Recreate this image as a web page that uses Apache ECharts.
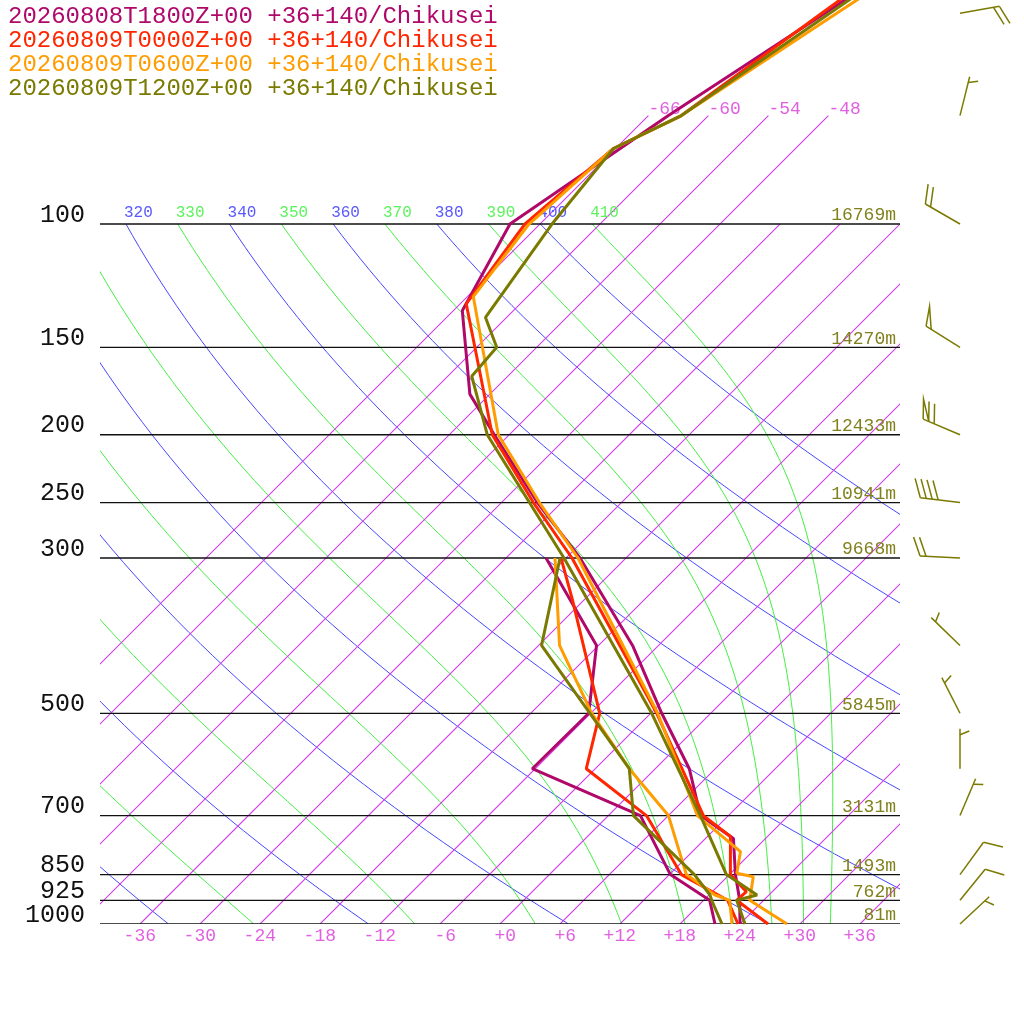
<!DOCTYPE html>
<html>
<head>
<meta charset="utf-8">
<title>Skew-T Chikusei</title>
<style>
  html, body { margin: 0; background: #fff; }
  #chart { width: 1024px; height: 1024px; }
</style>
<script src="https://cdn.jsdelivr.net/npm/echarts@6/dist/echarts.min.js"></script>
</head>
<body>
<div id="chart"></div>
<script>
/* Skew-T log-p for four runs at +36+140/Chikusei.
   Profiles are [pressure hPa, °C] pairs. */

const runNames = [
  '20260808T1800Z+00 +36+140/Chikusei',
  '20260809T0000Z+00 +36+140/Chikusei',
  '20260809T0600Z+00 +36+140/Chikusei',
  '20260809T1200Z+00 +36+140/Chikusei',
];
const runColors = ['#b0086a', '#ff2600', '#ff9c00', '#7a7a00'];

const temp1800 = [[1000, 24.0], [925, 21.6], [850, 18.6], [755, 14.8], [700, 9.2], [600, 3.4],
  [500, -4.9], [400, -14.6], [300, -28.6], [250, -38.4], [200, -49.5], [175, -56.0], [133, -65.1],
  [100, -69.0], [70, -64.0], [50, -58.6], [30, -50.5]];
const dew1800 = [[1000, 21.5], [925, 18.6], [850, 12.1], [700, 3.2], [600, -12.3], [500, -12.2],
  [400, -18.2], [300, -32.0]];

const temp0000 = [[1000, 26.8], [925, 21.3], [899, 21.4], [850, 18.1], [750, 14.3], [700, 9.5],
  [500, -5.4], [300, -29.4], [250, -38.8], [200, -49.7], [130, -65.4], [100, -67.5], [78, -66.2],
  [70, -62.7], [50, -58.9], [30, -53.2]];
const dew0000 = [[1000, 23.8], [925, 20.4], [850, 13.2], [700, 3.8], [600, -6.9], [500, -11.1],
  [344, -25.2], [300, -30.5]];

const temp0600 = [[1000, 28.7], [925, 22.6], [856, 20.6], [846, 18.6], [788, 16.8], [700, 8.9],
  [500, -5.3], [300, -28.8], [250, -38.2], [200, -49.1], [127, -65.4], [100, -67.1], [78, -66.2],
  [70, -62.7], [50, -57.4], [30, -49.3]];
const dew0600 = [[1000, 23.2], [925, 20.6], [909, 18.6], [850, 13.7], [700, 6.0], [600, -2.6],
  [500, -11.9], [400, -21.9], [300, -31.1]];

const temp1200 = [[1000, 24.5], [925, 21.3], [909, 22.8], [850, 17.7], [700, 9.2], [500, -5.9],
  [300, -30.2], [250, -39.2], [200, -50.2], [165, -57.6], [150, -58.0], [136, -62.1], [100, -64.8],
  [78, -66.2], [70, -62.7], [50, -58.1], [30, -51.1]];
const dew1200 = [[1000, 22.2], [925, 18.8], [909, 18.1], [850, 14.5], [700, 2.5], [600, -2.6],
  [400, -23.7], [300, -30.6]];

// wind barbs of the 1200Z run: direction from (deg), speed (kt)
const windP   = [1000, 925, 850, 700, 600, 500, 400, 300, 250, 200, 150, 100, 70, 50];
const windDir = [47, 39, 36, 23, 0, 333, 314, 273, 277, 293, 302, 300, 14, 80];
const windKt  = [5, 10, 10, 5, 5, 5, 5, 20, 40, 70, 50, 20, 5, 20];

// reference grid of the diagram
const pressureLevels = [1000, 925, 850, 700, 500, 300, 250, 200, 150, 100];
const pressureLabels = ['1000', '925', '850', '700', '500', '300', '250', '200', '150', '100'];
const heightLabels = ['81m', '762m', '1493m', '3131m', '5845m', '9668m', '10941m', '12433m', '14270m', '16769m'];
const isotherms = [-66, -60, -54, -48, -42, -36, -30, -24, -18, -12, -6, 0, 6, 12, 18, 24, 30, 36];
const isothermTicks = [-36, -30, -24, -18, -12, -6, 0, 6, 12, 18, 24, 30, 36];
const upperIsotherms = [-66, -60, -54, -48];
const dryThetas = [240, 260, 280, 300, 320, 340, 360, 380, 400];
const moistThetas = [250, 270, 290, 310, 330, 350, 370, 390, 410];
const thetaTicks = [320, 330, 340, 350, 360, 370, 380, 390, 400, 410];

// diagram geometry: 10 px per °C, 304 px per ln(p)
const SKEW = 30.4;
const P_TOP = 1000 * Math.exp(-924 / 304);
const BARB_X = 46;
const KAPPA = 0.2857;
const MONO = '"Liberation Mono", "DejaVu Sans Mono", monospace';

const skewX = (t, p) => t + SKEW * Math.log(1000 / p);
const toXY = prof => prof.map(([p, t]) => [skewX(t, p), p]);

function logSpaced(p0, p1, n) {
  const out = [];
  for (let i = 0; i <= n; i++) out.push(p0 * Math.pow(p1 / p0, i / n));
  return out;
}

function dryAdiabat(theta) {
  return logSpaced(1000, 100, 60).map(p => [skewX(theta * Math.pow(p / 1000, KAPPA) - 273.15, p), p]);
}

// pseudo-adiabat started at 100 hPa with the temperature of potential temperature theta
function moistAdiabat(theta) {
  const Rd = 287.04, Cp = 1005.7, Lv = 2.501e6, eps = 0.622;
  const rate = (T, lnp) => {
    const p = Math.exp(lnp);
    const es = 6.112 * Math.exp(17.67 * (T - 273.15) / (T - 29.65));
    const rs = eps * es / (p - es);
    return (Rd * T + Lv * rs) / (Cp + Lv * Lv * rs * eps / (Rd * T * T));
  };
  let T = theta * Math.pow(0.1, KAPPA);
  let lnp = Math.log(100);
  const n = 120, h = (Math.log(1000) - lnp) / n;
  const pts = [[skewX(T - 273.15, 100), 100]];
  for (let i = 0; i < n; i++) {
    const k1 = rate(T, lnp);
    const k2 = rate(T + h * k1 / 2, lnp + h / 2);
    const k3 = rate(T + h * k2 / 2, lnp + h / 2);
    const k4 = rate(T + h * k3, lnp + h);
    T += h * (k1 + 2 * k2 + 2 * k3 + k4) / 6;
    lnp += h;
    const p = Math.exp(lnp);
    pts.push([skewX(T - 273.15, p), p]);
  }
  return pts;
}

// background curves: one polyline per item, clipped to the grid
function refLines(coordsList, color, width, z) {
  return {
    type: 'custom', silent: true, clip: true, z,
    data: coordsList.map(c => c[0]),
    renderItem(params, api) {
      const points = coordsList[params.dataIndex].map(c => api.coord(c));
      return { type: 'polyline', shape: { points }, style: { stroke: color, lineWidth: width, fill: null } };
    },
  };
}

function textSeries(coords, texts, o) {
  return {
    type: 'custom', silent: true, z: 3, clip: false,
    data: coords,
    renderItem(params, api) {
      const i = params.dataIndex;
      const pt = api.coord(coords[i]);
      return {
        type: 'text', x: pt[0] + o.dx, y: pt[1] + o.dy,
        style: {
          text: texts[i], font: o.font, align: o.align, verticalAlign: 'middle',
          fill: typeof o.color === 'function' ? o.color(i) : o.color,
        },
      };
    },
  };
}

function renderBarb(params, api) {
  const i = params.dataIndex;
  const [bx, by] = api.coord([BARB_X, windP[i]]);
  const d = windDir[i] * Math.PI / 180;
  const ux = Math.sin(d), uy = -Math.cos(d);
  const L = 40, step = 6, len = 20;
  const tip = [bx + ux * L, by + uy * L];
  const fa = Math.atan2(uy, ux) + 68 * Math.PI / 180;
  const fx = Math.cos(fa), fy = Math.sin(fa);
  const at = s => [tip[0] - ux * s, tip[1] - uy * s];
  const style = { stroke: runColors[3], lineWidth: 1.5, fill: null };
  const kids = [{ type: 'line', shape: { x1: bx, y1: by, x2: tip[0], y2: tip[1] }, style }];
  let spd = Math.round(windKt[i] / 5) * 5, pos = 0;
  while (spd >= 50) {
    const a = at(pos), b = at(pos + step);
    kids.push({ type: 'polyline', shape: { points: [a, [a[0] + fx * len, a[1] + fy * len], b] }, style });
    pos += step; spd -= 50;
  }
  while (spd >= 10) {
    const a = at(pos);
    kids.push({ type: 'line', shape: { x1: a[0], y1: a[1], x2: a[0] + fx * len, y2: a[1] + fy * len }, style });
    pos += step; spd -= 10;
  }
  if (spd >= 5) {
    if (pos === 0) pos = step;
    const a = at(pos);
    kids.push({ type: 'line', shape: { x1: a[0], y1: a[1], x2: a[0] + fx * len / 2, y2: a[1] + fy * len / 2 }, style });
  }
  return { type: 'group', children: kids };
}

const isoCoords = isotherms.map(t => {
  const pEnd = upperIsotherms.includes(t) ? 70 : 100;
  return [[skewX(t, 1000), 1000], [skewX(t, pEnd), pEnd]];
});

const thetaX = th => th * Math.pow(0.1, KAPPA) - 273.15 + SKEW * Math.log(10);
const signed = t => (t < 0 ? '-' : '+') + Math.abs(t);

const profiles = [[temp1800, dew1800], [temp0000, dew0000], [temp0600, dew0600], [temp1200, dew1200]];
const profileSeries = [];
profiles.forEach(([tp, dp], k) => {
  [tp, dp].forEach(prof => profileSeries.push({
    type: 'line', name: runNames[k], data: toXY(prof), z: 6, clip: true,
    symbol: 'none', showSymbol: false, silent: true,
    lineStyle: { width: 3, color: runColors[k] }, itemStyle: { color: runColors[k] },
  }));
});

const chart = echarts.init(document.getElementById('chart'), null, { renderer: 'canvas' });
chart.setOption({
  animation: false,
  backgroundColor: '#fff',
  grid: { left: 100, right: 124, top: 0, bottom: 100 },
  legend: {
    left: 3, top: 5, padding: 0, orient: 'vertical', icon: 'none',
    itemWidth: 0, itemHeight: 24, itemGap: 0, selectedMode: false,
    textStyle: { fontFamily: MONO, fontSize: 24, lineHeight: 24 },
    data: runNames.map((name, k) => ({ name, textStyle: { color: runColors[k] } })),
  },
  xAxis: { type: 'value', min: -40, max: 40, show: false },
  yAxis: { type: 'log', min: P_TOP, max: 1000, inverse: true, show: false },
  series: [
    refLines(dryThetas.map(dryAdiabat), '#4848ff', 1, 1),
    refLines(moistThetas.map(moistAdiabat), '#44ee44', 1, 1),
    refLines(isoCoords, 'rgb(210, 60, 235)', 1.1, 1),
    refLines(pressureLevels.map(p => [[-40, p], [40, p]]), '#111', 1.3, 2),
    textSeries(pressureLevels.map(p => [-40, p]), pressureLabels,
      { dx: -15, dy: -9, align: 'right', font: '25px ' + MONO, color: '#111' }),
    textSeries(pressureLevels.map(p => [40, p]), heightLabels,
      { dx: -4, dy: -8.5, align: 'right', font: '18px ' + MONO, color: '#80801c' }),
    textSeries(thetaTicks.map(th => [thetaX(th), 100]), thetaTicks.map(String),
      { dx: -2, dy: -11.5, align: 'left', font: '16px ' + MONO,
        color: i => (thetaTicks[i] % 20 === 0 ? '#5858ff' : '#5cf45c') }),
    textSeries(isothermTicks.map(t => [t, 1000]), isothermTicks.map(signed),
      { dx: 16, dy: 12.5, align: 'right', font: '18px ' + MONO, color: '#e060e0' }),
    textSeries(upperIsotherms.map(t => [skewX(t, 70), 70]), upperIsotherms.map(signed),
      { dx: 0, dy: -6.5, align: 'left', font: '18px ' + MONO, color: '#e060e0' }),
    ...profileSeries,
    { type: 'custom', silent: true, z: 6, clip: false, data: windP.map(p => [BARB_X, p]), renderItem: renderBarb },
  ],
});
</script>
</body>
</html>
